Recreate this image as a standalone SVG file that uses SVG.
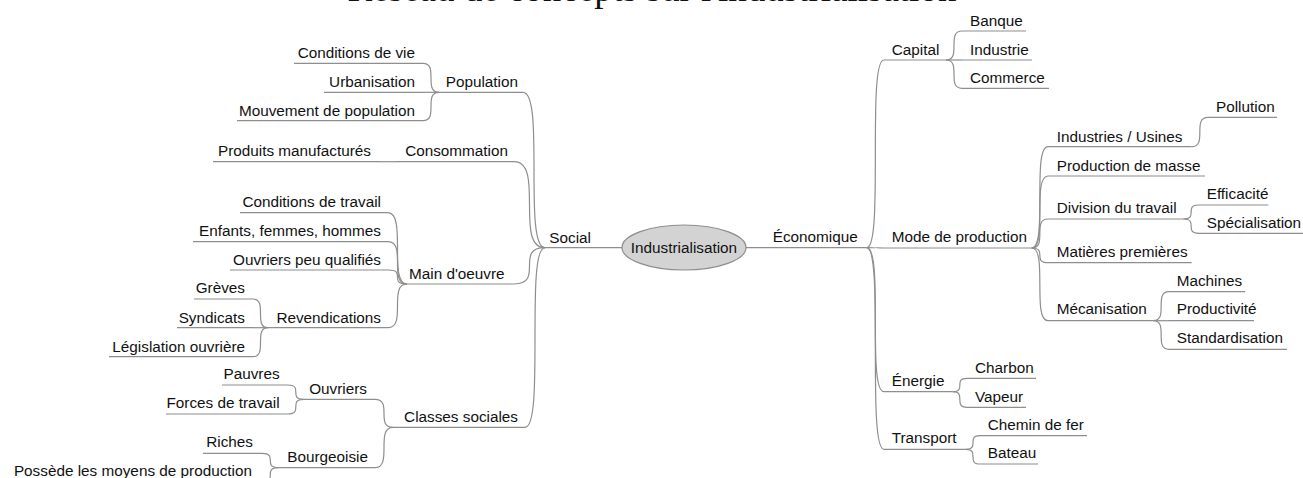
<svg xmlns="http://www.w3.org/2000/svg" width="1303" height="478" viewBox="0 0 1303 478">
<style>
.t{font-family:"Liberation Sans",Arial,sans-serif;font-size:15.3px;fill:#111}
.e{text-anchor:end}
.u{stroke:#8e8e8e;stroke-width:1.2;fill:none}
.c path{stroke:#8e8e8e;stroke-width:1.2;fill:none}
.title{font-family:"Liberation Serif","Times New Roman",serif;font-size:37px;fill:#111;text-anchor:middle}
</style>
<rect width="1303" height="478" fill="#fff"/>
<text class="title" x="652" y="1">Réseau de concepts sur l'industrialisation</text>
<g id="connectors" class="c">
<path d="M622 247.7H600M746 247.7H766"/>
<path d="M545 247.7C523 247.7 545 92.3 523 92.3"/>
<path d="M545 247.7C514 247.7 545 161.7 514 161.7"/>
<path d="M545 247.7C514 247.7 545 284 514 284"/>
<path d="M545 247.7C525 247.7 545 427.3 525 427.3"/>
<path d="M439 92.3C423 92.3 439 63.3 423 63.3"/>
<path d="M439 92.3H423"/>
<path d="M439 92.3C423 92.3 439 120.7 423 120.7"/>
<path d="M397 161.7H379"/>
<path d="M407 284C388 284 407 212.7 388 212.7"/>
<path d="M407 284C388 284 407 241.7 388 241.7"/>
<path d="M407 284C388 284 407 270 388 270"/>
<path d="M407 284C388 284 407 327.7 388 327.7"/>
<path d="M268 327.7C253 327.7 268 299 253 299"/>
<path d="M268 327.7H253"/>
<path d="M268 327.7C253 327.7 268 356.7 253 356.7"/>
<path d="M393 427.3C375 427.3 393 399.3 375 399.3"/>
<path d="M393 427.3C375 427.3 393 467.7 375 467.7"/>
<path d="M303.6 399.3C288 399.3 303.6 385 288 385"/>
<path d="M303.6 399.3C288 399.3 303.6 414 288 414"/>
<path d="M278.6 467.7C262 467.7 278.6 453.3 262 453.3"/>
<path d="M278.6 467.7C262 467.7 278.6 482 262 482"/>
<path d="M866.7 247.7C884 247.7 866.7 60 884 60"/>
<path d="M866.7 247.7C884 247.7 866.7 248 884 248"/>
<path d="M866.7 247.7C884 247.7 866.7 391.7 884 391.7"/>
<path d="M866.7 247.7C884 247.7 866.7 449.3 884 449.3"/>
<path d="M946 60C962 60 946 31 962 31"/>
<path d="M946 60H962"/>
<path d="M946 60C962 60 946 88.3 962 88.3"/>
<path d="M1031.7 248C1048 248 1031.7 146.7 1048 146.7"/>
<path d="M1031.7 248C1048 248 1031.7 176 1048 176"/>
<path d="M1031.7 248C1048 248 1031.7 219 1048 219"/>
<path d="M1031.7 248C1048 248 1031.7 262.7 1048 262.7"/>
<path d="M1031.7 248C1048 248 1031.7 320.7 1048 320.7"/>
<path d="M1191.7 146.7C1208 146.7 1191.7 117.3 1208 117.3"/>
<path d="M1183.3 219C1199 219 1183.3 205 1199 205"/>
<path d="M1183.3 219C1199 219 1183.3 233.3 1199 233.3"/>
<path d="M1153.3 320.7C1169 320.7 1153.3 291.7 1169 291.7"/>
<path d="M1153.3 320.7H1169"/>
<path d="M1153.3 320.7C1169 320.7 1153.3 349.3 1169 349.3"/>
<path d="M952.7 391.7C967 391.7 952.7 378.3 967 378.3"/>
<path d="M952.7 391.7C967 391.7 952.7 407.3 967 407.3"/>
<path d="M966 449.3C980 449.3 966 435.7 980 435.7"/>
<path d="M966 449.3C980 449.3 966 464 980 464"/>
</g>
<g id="root"><ellipse cx="684" cy="247.5" rx="62" ry="22.5" fill="#d3d3d3" stroke="#8e8e8e" stroke-width="1.2"/><text class="t" x="684" y="253" text-anchor="middle">Industrialisation</text></g>
<g id="social"><path class="u" d="M545 247.7H600"/><text class="t e" x="591" y="242.5">Social</text></g>
<g id="population"><path class="u" d="M439 92.3H523"/><text class="t e" x="518" y="87.3">Population</text></g>
<g id="conditions-vie"><path class="u" d="M294 63.3H423"/><text class="t e" x="415" y="58.3">Conditions de vie</text></g>
<g id="urbanisation"><path class="u" d="M324 92.3H423"/><text class="t e" x="415" y="87.3">Urbanisation</text></g>
<g id="mouvement"><path class="u" d="M237 120.7H423"/><text class="t e" x="415" y="116">Mouvement de population</text></g>
<g id="consommation"><path class="u" d="M397 161.7H514"/><text class="t e" x="508" y="156">Consommation</text></g>
<g id="produits"><path class="u" d="M213 161.7H379"/><text class="t e" x="371" y="156">Produits manufacturés</text></g>
<g id="main-oeuvre"><path class="u" d="M407 284H514"/><text class="t e" x="504.6" y="279.3">Main d'oeuvre</text></g>
<g id="conditions-travail"><path class="u" d="M240 212.7H388"/><text class="t e" x="381" y="206.7">Conditions de travail</text></g>
<g id="enfants"><path class="u" d="M193 241.7H388"/><text class="t e" x="381" y="235.7">Enfants, femmes, hommes</text></g>
<g id="ouvriers-peu"><path class="u" d="M230 270H388"/><text class="t e" x="381" y="264.5">Ouvriers peu qualifiés</text></g>
<g id="revendications"><path class="u" d="M268 327.7H388"/><text class="t e" x="381" y="322.7">Revendications</text></g>
<g id="greves"><path class="u" d="M194 299H253"/><text class="t e" x="245" y="293.3">Grèves</text></g>
<g id="syndicats"><path class="u" d="M177 327.7H253"/><text class="t e" x="245" y="322.7">Syndicats</text></g>
<g id="legislation"><path class="u" d="M109 356.7H253"/><text class="t e" x="245" y="351.7">Législation ouvrière</text></g>
<g id="classes"><path class="u" d="M393 427.3H525"/><text class="t e" x="518" y="421.7">Classes sociales</text></g>
<g id="ouvriers"><path class="u" d="M303.6 399.3H375"/><text class="t e" x="367" y="394">Ouvriers</text></g>
<g id="pauvres"><path class="u" d="M222 385H288"/><text class="t e" x="279.6" y="379.3">Pauvres</text></g>
<g id="forces"><path class="u" d="M166 414H288"/><text class="t e" x="279.6" y="408.3">Forces de travail</text></g>
<g id="bourgeoisie"><path class="u" d="M278.6 467.7H375"/><text class="t e" x="368" y="461.7">Bourgeoisie</text></g>
<g id="riches"><path class="u" d="M203 453.3H262"/><text class="t e" x="253" y="447.3">Riches</text></g>
<g id="possede"><path class="u" d="M9 482H262"/><text class="t e" x="252" y="476">Possède les moyens de production</text></g>
<g id="economique"><path class="u" d="M766 247.7H866.7"/><text class="t" x="772.7" y="242.3">Économique</text></g>
<g id="capital"><path class="u" d="M884 60H946"/><text class="t" x="891.7" y="55">Capital</text></g>
<g id="banque"><path class="u" d="M962 31H1026"/><text class="t" x="970" y="25.5">Banque</text></g>
<g id="industrie"><path class="u" d="M962 60H1032"/><text class="t" x="970" y="55">Industrie</text></g>
<g id="commerce"><path class="u" d="M962 88.3H1049"/><text class="t" x="970" y="83.3">Commerce</text></g>
<g id="mode"><path class="u" d="M884 248H1031.7"/><text class="t" x="891.7" y="242.3">Mode de production</text></g>
<g id="industries"><path class="u" d="M1048 146.7H1191.7"/><text class="t" x="1056.7" y="141.7">Industries / Usines</text></g>
<g id="pollution"><path class="u" d="M1208 117.3H1277"/><text class="t" x="1216" y="111.7">Pollution</text></g>
<g id="production-masse"><path class="u" d="M1048 176H1205"/><text class="t" x="1056.7" y="170.7">Production de masse</text></g>
<g id="division"><path class="u" d="M1048 219H1183.3"/><text class="t" x="1056.7" y="213.3">Division du travail</text></g>
<g id="efficacite"><path class="u" d="M1199 205H1268.3"/><text class="t" x="1206.7" y="199.3">Efficacité</text></g>
<g id="specialisation"><path class="u" d="M1199 233.3H1303"/><text class="t" x="1206.7" y="228">Spécialisation</text></g>
<g id="matieres"><path class="u" d="M1048 262.7H1191.7"/><text class="t" x="1056.7" y="257.3">Matières premières</text></g>
<g id="mecanisation"><path class="u" d="M1048 320.7H1153.3"/><text class="t" x="1056.7" y="314.3">Mécanisation</text></g>
<g id="machines"><path class="u" d="M1169 291.7H1245"/><text class="t" x="1176.7" y="286">Machines</text></g>
<g id="productivite"><path class="u" d="M1169 320.7H1254"/><text class="t" x="1176.7" y="314.3">Productivité</text></g>
<g id="standardisation"><path class="u" d="M1169 349.3H1287"/><text class="t" x="1176.7" y="343.3">Standardisation</text></g>
<g id="energie"><path class="u" d="M884 391.7H952.7"/><text class="t" x="891.7" y="386">Énergie</text></g>
<g id="charbon"><path class="u" d="M967 378.3H1036"/><text class="t" x="975" y="372.7">Charbon</text></g>
<g id="vapeur"><path class="u" d="M967 407.3H1026"/><text class="t" x="975" y="401.7">Vapeur</text></g>
<g id="transport"><path class="u" d="M884 449.3H966"/><text class="t" x="891.7" y="443.3">Transport</text></g>
<g id="chemin"><path class="u" d="M980 435.7H1087"/><text class="t" x="987.7" y="430">Chemin de fer</text></g>
<g id="bateau"><path class="u" d="M980 464H1038"/><text class="t" x="987.7" y="458.3">Bateau</text></g>
</svg>
